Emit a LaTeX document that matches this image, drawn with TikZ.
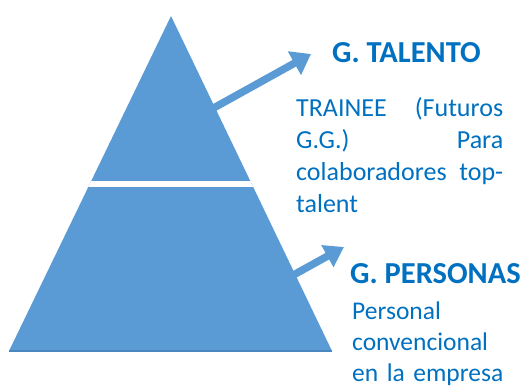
\documentclass[tikz,border=0pt]{standalone}
\usepackage{fontspec}
\setmainfont{Carlito}
\usetikzlibrary{arrows.meta}
\definecolor{pyrblue}{HTML}{5B9BD5}
\definecolor{pyredge}{HTML}{4A86C0}
\definecolor{txtblue}{HTML}{0070C0}
\begin{document}
\begin{tikzpicture}[x=1pt,y=-1pt,
  layer/.style={fill=pyrblue,draw=none},
  pointer/.style={draw=pyrblue,line width=7.5pt,-{Triangle[width=26pt,length=19pt]}},
  heading/.style={anchor=base west,inner sep=0pt,text=txtblue,font=\bfseries\fontsize{30.5}{32}\selectfont},
  bodytext/.style={anchor=base west,inner sep=0pt,text=txtblue,align=left,font=\fontsize{26}{32}\selectfont}]
\useasboundingbox (0,0) rectangle (524,387);
% pyramid corners
\coordinate (apex) at (171,16);
\coordinate (bl) at (9,351);
\coordinate (br) at (332,351);
% arrow ends
\coordinate (t1) at (210,110);
\coordinate (h1) at (311,54);
\coordinate (t2) at (288,278);
\coordinate (h2) at (344,247);
% arrows
\draw[pointer] (t1) -- (h1);
\draw[pointer,-{Triangle[width=24pt,length=19pt]}] (t2) -- (h2);
% pyramid
\fill[layer] (apex) -- (br) -- (bl) -- cycle;
\draw[pyredge,line width=1.5pt] (bl) -- (br);
% gap between the two levels
\begin{scope}
  \clip (apex) -- (br) -- (bl) -- cycle;
  \fill[white] (60,181.5) rectangle (280,187);
\end{scope}
% labels
\node[heading] (talento) at (332,63) {G. TALENTO};
\node[bodytext,text width=207pt] (talentodesc) at (296,117)
  {TRAINEE\hfill(Futuros\\G.G.)\hfill Para\\colaboradores\hfill top-\\talent};
\node[heading] (personas) at (350,283) {G. PERSONAS};
\node[bodytext,text width=170pt,font=\fontsize{25.5}{31}\selectfont] (personasdesc) at (352,319)
  {Personal\\convencional\\en la empresa};
\end{tikzpicture}
\end{document}
